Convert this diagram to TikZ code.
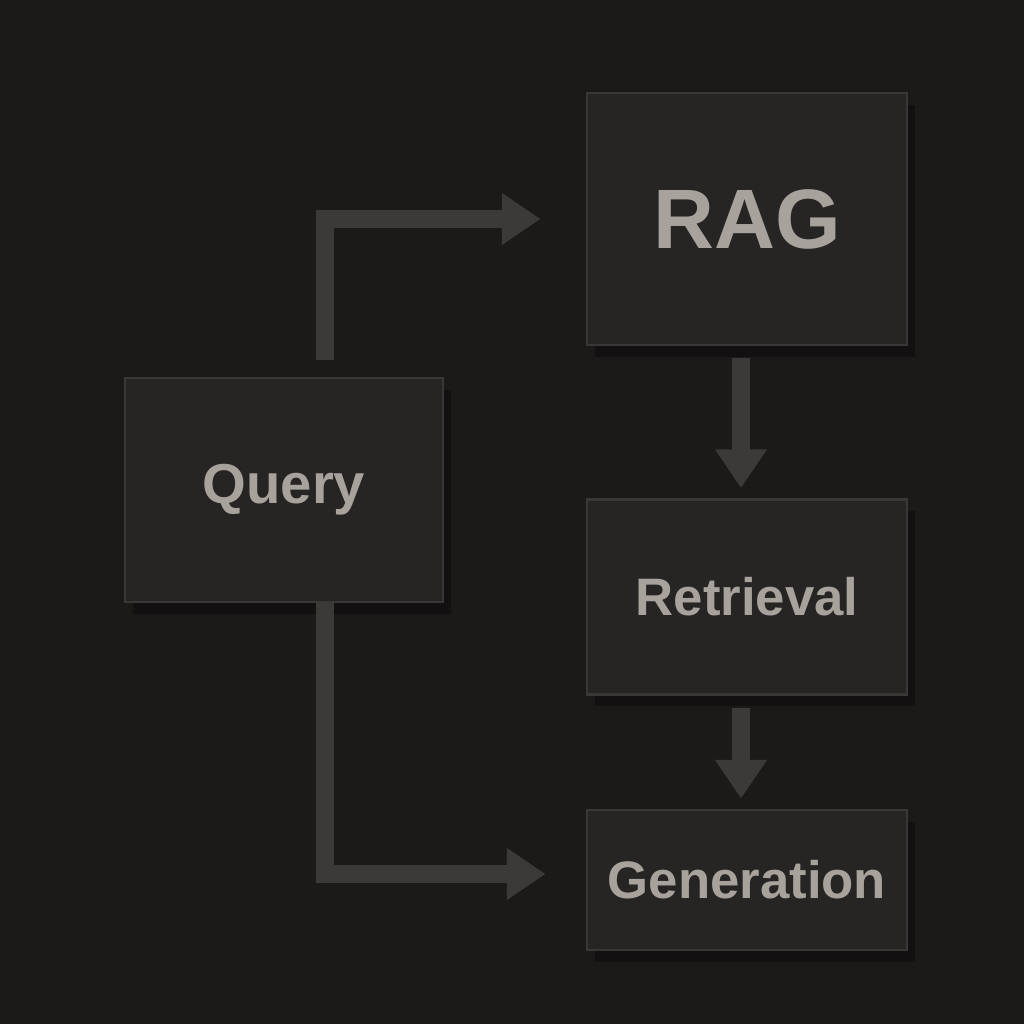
\documentclass[tikz,border=0pt]{standalone}
\usepackage{fontspec}
\setmainfont{Liberation Sans}
\usepackage{tikz}
\usetikzlibrary{arrows.meta,positioning,calc}
\definecolor{bgdark}{HTML}{1C1A19}
\definecolor{boxfill}{HTML}{262524}
\definecolor{boxedge}{HTML}{3A3836}
\definecolor{labelgray}{HTML}{A8A29C}
\definecolor{flowgray}{HTML}{3C3A38}
\tikzset{
  block/.style={draw=boxedge, line width=0.8pt, fill=boxfill, text=labelgray,
    font=\bfseries, inner sep=0pt},
  flow/.style={draw=flowgray, line width=5pt, line join=miter,
    -{Triangle[length=11pt,width=14pt]}}
}
\begin{document}
\begin{tikzpicture}
    % Background
    \fill[bgdark] (0,0) rectangle (10.24,10.24);
    \useasboundingbox (0,0) rectangle (10.24,10.24);

    % Shadows
    \foreach \x/\y/\w/\h in {7.47/8.05/3.2/2.52, 2.84/5.34/3.18/2.24, 7.47/4.27/3.2/1.95, 7.47/1.44/3.2/1.4}
      \fill[black, opacity=0.35] ($(\x,\y)+(-\w/2+0.08,-\h/2-0.12)$) rectangle ++(\w,\h);

    % Blocks
    \node[block, minimum width=3.2cm, minimum height=2.52cm, font=\bfseries\fontsize{24}{28}\selectfont] (rag) at (7.47,8.05) {RAG};
    \node[block, minimum width=3.18cm, minimum height=2.24cm, font=\bfseries\fontsize{16}{20}\selectfont] (query) at (2.84,5.34) {Query};
    \node[block, minimum width=3.2cm, minimum height=1.95cm, font=\bfseries\fontsize{15}{19}\selectfont] (retrieval) at (7.47,4.27) {Retrieval};
    \node[block, minimum width=3.2cm, minimum height=1.4cm, font=\bfseries\fontsize{15}{19}\selectfont] (generation) at (7.47,1.44) {Generation};

    % Connectors
    \coordinate (qtop) at (3.25,6.64);
    \coordinate (qbot) at (3.25,4.22);
    \draw[flow, shorten >=0.45cm] (qtop) |- (rag.west);
    \draw[flow, shorten >=0.4cm] (qbot) |- ($(generation.west)+(0,0.06)$);
    \draw[flow] ($(rag.south)+(-0.06,-0.12)$) -- ($(retrieval.north)+(-0.06,0.1)$);
    \draw[flow] ($(retrieval.south)+(-0.06,-0.12)$) -- ($(generation.north)+(-0.06,0.1)$);
\end{tikzpicture}
\end{document}
